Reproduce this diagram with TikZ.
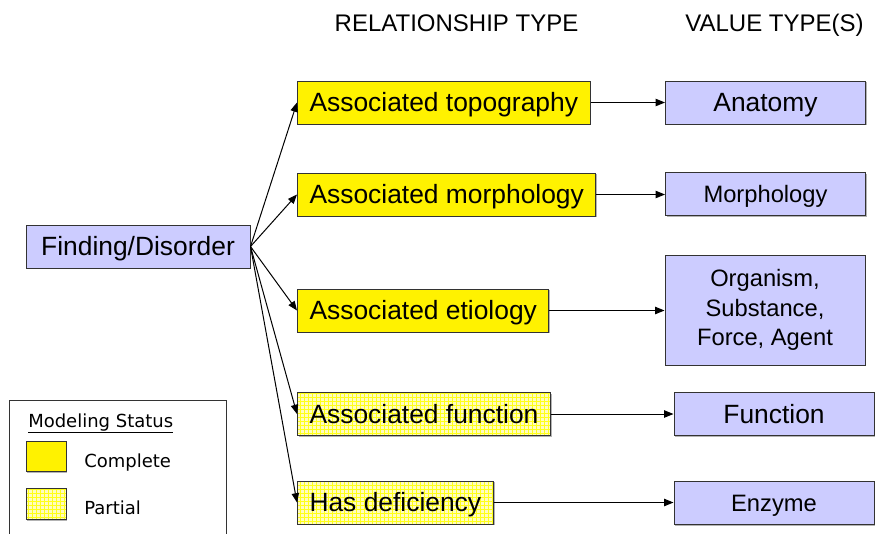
\documentclass[tikz,border=0pt]{standalone}
\usepackage{fontspec}
\setmainfont{Liberation Sans}
\newfontfamily\legendfont{DejaVu Sans}
\usetikzlibrary{arrows.meta,patterns,shadows}

\begin{document}
\begin{tikzpicture}[x=0.75pt,y=-0.75pt,
	box/.style={draw=black!80, line width=0.75pt, minimum height=32.25pt, inner xsep=9pt,
		text height=14.2pt, text depth=0pt,
		drop shadow={shadow xshift=1pt, shadow yshift=-1pt, opacity=0.6},
		font=\fontsize{19.8}{23}\selectfont},
	done/.style={box, fill=yellow},
	part/.style={box, preaction={fill=yellow!25}, pattern=grid, pattern color=yellow!90},
	value/.style={box, fill=blue!20, minimum width=150pt},
	small/.style={text height=12.7pt, font=\fontsize{17.8}{22}\selectfont},
	head/.style={anchor=base, font=\fontsize{18}{21}\selectfont},
	arr/.style={-{Triangle[length=7pt,width=5.5pt]}, line width=0.75pt}]
	\useasboundingbox (0,0) rectangle (875,533);

	\node[head] (h1) at (456.5,31) {RELATIONSHIP TYPE};
	\node[head] (h2) at (774.5,31) {VALUE TYPE(S)};

	\node[box, fill=blue!20, minimum width=168pt] (fd) at (138,246.5) {Finding/Disorder};

	% relationship types
	\node[done, anchor=west] (r1) at (297,102.5) {Associated topography};
	\node[done, anchor=west] (r2) at (297,194.5) {Associated morphology};
	\node[done, anchor=west] (r3) at (297,310.5) {Associated etiology};
	\node[part, anchor=west] (r4) at (297,414) {Associated function};
	\node[part, anchor=west] (r5) at (297,502.5) {Has deficiency};

	% value types
	\node[value] (v1) at (765.5,102.5) {Anatomy};
	\node[value, small] (v2) at (765.5,194) {Morphology};
	\node[value, small, align=center, text height={}, text depth={}, minimum height=82.5pt] (v3) at (765,310) {Organism,\\Substance,\\Force, Agent};
	\node[value] (v4) at (774,414) {Function};
	\node[value, small] (v5) at (774,503) {Enzyme};

	\foreach \i in {1,...,5}
	{
		\draw[arr] (fd.east) -- (r\i.west);
		\draw[arr] (r\i.east) -- (r\i.east -| v\i.west);
	}

	% legend
	\draw[line width=0.75pt, black!80] (9,540) |- (226,400) -- (226,540);
	\node[anchor=base west, inner sep=0, font=\legendfont\fontsize{13.5}{16}\selectfont] (ms) at (28,427) {\underline{Modeling Status}};
	\node[done, minimum width=30pt, minimum height=23pt, inner sep=0] (lc) at (46,456.5) {};
	\node[part, minimum width=30pt, minimum height=23pt, inner sep=0] (lp) at (46,504) {};
	\node[anchor=base west, inner sep=0, font=\legendfont\fontsize{13.5}{16}\selectfont] (tc) at (84,467) {Complete};
	\node[anchor=base west, inner sep=0, font=\legendfont\fontsize{13.5}{16}\selectfont] (tp) at (84,514) {Partial};
\end{tikzpicture}
\end{document}
